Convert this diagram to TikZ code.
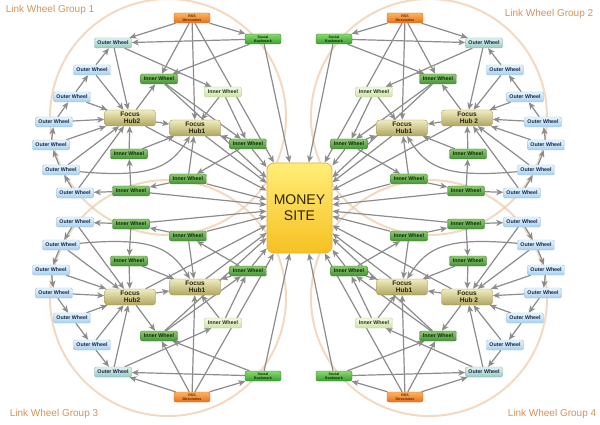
\documentclass[tikz,border=0pt]{standalone}
\usepackage{fontspec}
\setmainfont{Liberation Sans}
\setsansfont{Liberation Sans}
\usetikzlibrary{arrows.meta}
\definecolor{edgegray}{RGB}{140,140,140}
\definecolor{ringcol}{RGB}{238,198,160}
\definecolor{titlecol}{RGB}{212,148,88}
\pgfdeclarelayer{bg}
\pgfdeclarelayer{edges}
\pgfsetlayers{bg,edges,main}

\newcommand\lwnodes[2]{%
 \node[rssbox] (#1R) at (192,18) {RSS\\Directories};
 \node[socbox] (#1S) at (263,39) {Social\\Bookmark};
 \node[outerT] (#1O1) at (113,43) {Outer Wheel};
 \node[outer] (#1O2) at (92,70) {Outer Wheel};
 \node[outer] (#1O3) at (72,97) {Outer Wheel};
 \node[outer] (#1O4) at (54,122) {Outer Wheel};
 \node[outer] (#1O5) at (51,145) {Outer Wheel};
 \node[outer] (#1O6) at (61,170) {Outer Wheel};
 \node[outer] (#1O7) at (75,193) {Outer Wheel};
 \node[innerD] (#1I1) at (159,79) {Inner Wheel};
 \node[innerL] (#1I2) at (223,92) {Inner Wheel};
 \node[hub] (#1F2) at (130,118) {Focus\\\hspace*{4pt}#2};
 \node[hub] (#1F1) at (195,128) {Focus\\\hspace*{4pt}Hub1};
 \node[innerD] (#1I3) at (248,144) {Inner Wheel};
 \node[innerD] (#1I4) at (129,154) {Inner Wheel};
 \node[innerD] (#1I5) at (188,179) {Inner Wheel};
 \node[innerD] (#1I6) at (131,191) {Inner Wheel};
}

\newcommand\lwedges[1]{%
 \draw[e] (#1R) -- (#1O1);
 \draw[e] (#1R) -- (#1S);
 \draw[e] (#1R) -- (#1I1);
 \draw[e] (#1R) -- (#1F1);
 \draw[e] (#1R) -- (M);
 \draw[e] (#1S) -- (#1O1);
 \draw[e] (#1S) -- (#1I1);
 \draw[e] (#1S) -- (M);
 \draw[e] (#1O1) -- (#1F2);
 \draw[e] (#1O1) -- (#1I2);
 \draw[e] (#1O2) -- (#1O1);
 \draw[e] (#1O2) -- (#1F2);
 \draw[e] (#1O3) -- (#1O2);
 \draw[e] (#1O3) -- (#1F2);
 \draw[e] (#1O4) -- (#1O3);
 \draw[e] (#1O4) -- (#1F2);
 \draw[e] (#1O5) -- (#1O4);
 \draw[e] (#1O5) -- (#1F2);
 \draw[e] (#1O6) -- (#1O5);
 \draw[e] (#1O6) -- (#1F2);
 \draw[e] (#1O6) .. controls (150,178) and (170,168) .. (#1F1);
 \draw[e] (#1O7) -- (#1O6);
 \draw[e] (#1O7) -- (#1F2);
 \draw[e] (#1F2) -- (#1I1);
 \draw[e] (#1F2) -- (#1F1);
 \draw[e] (#1F2) -- (M);
 \draw[e] (#1F1) -- (M);
 \draw[e] (#1I1) -- (#1I3);
 \draw[e] (#1I1) -- (M);
 \draw[e] (#1I2) -- (#1F1);
 \draw[e] (#1I2) -- (#1I3);
 \draw[e] (#1I3) -- (#1F1);
 \draw[e] (#1I3) -- (#1I5);
 \draw[e] (#1I3) -- (M);
 \draw[e] (#1I4) -- (#1F2);
 \draw[e] (#1I4) -- (#1F1);
 \draw[e] (#1I5) -- (#1F1);
 \draw[e] (#1I5) -- (#1I6);
 \draw[e] (#1I5) -- (M);
 \draw[e] (#1I6) -- (#1I4);
 \draw[e] (#1I6) -- (#1O7);
 \draw[e] (#1I6) -- (M);
}

\begin{document}
\begin{tikzpicture}[x=1pt,y=-1pt,
  base/.style={rounded corners=2pt, inner sep=0pt, align=center,
    font=\bfseries\fontsize{5.3}{5.3}\selectfont, line width=0.4pt},
  outer/.style={base, minimum width=37pt, minimum height=10pt,
    top color={rgb,255:red,232;green,244;blue,253}, bottom color={rgb,255:red,168;green,208;blue,238},
    draw={rgb,255:red,150;green,190;blue,222}, text={rgb,255:red,20;green,40;blue,75}},
  outerT/.style={outer, top color={rgb,255:red,225;green,242;blue,238}, bottom color={rgb,255:red,150;green,202;blue,192},
    draw={rgb,255:red,130;green,180;blue,170}},
  innerD/.style={base, minimum width=37pt, minimum height=10pt,
    top color={rgb,255:red,140;green,200;blue,110}, bottom color={rgb,255:red,72;green,148;blue,58},
    draw={rgb,255:red,65;green,125;blue,52}, text={rgb,255:red,15;green,40;blue,10}},
  innerL/.style={innerD, top color={rgb,255:red,242;green,248;blue,225}, bottom color={rgb,255:red,205;green,228;blue,170},
    draw={rgb,255:red,180;green,205;blue,145}, text={rgb,255:red,40;green,55;blue,25}},
  hub/.style={base, minimum width=51pt, minimum height=16pt, rounded corners=3pt,
    font=\bfseries\fontsize{6.6}{7}\selectfont,
    top color={rgb,255:red,240;green,236;blue,190}, bottom color={rgb,255:red,175;green,166;blue,96},
    draw={rgb,255:red,158;green,148;blue,88}, text={rgb,255:red,40;green,38;blue,15}},
  rssbox/.style={base, minimum width=36pt, minimum height=10pt,
    font=\bfseries\fontsize{3.6}{3.8}\selectfont,
    top color={rgb,255:red,252;green,180;blue,95}, bottom color={rgb,255:red,232;green,112;blue,30},
    draw={rgb,255:red,205;green,105;blue,30}, text={rgb,255:red,90;green,35;blue,0}},
  socbox/.style={base, minimum width=36pt, minimum height=10pt,
    font=\bfseries\fontsize{3.6}{3.8}\selectfont,
    top color={rgb,255:red,140;green,215;blue,110}, bottom color={rgb,255:red,55;green,160;blue,48},
    draw={rgb,255:red,50;green,135;blue,45}, text={rgb,255:red,10;green,40;blue,5}},
  money/.style={rounded corners=7pt, minimum width=65pt, minimum height=90pt, inner sep=0pt,
    align=center, font=\fontsize{14}{16}\selectfont,
    top color={rgb,255:red,255;green,238;blue,120}, bottom color={rgb,255:red,246;green,192;blue,35},
    draw={rgb,255:red,235;green,175;blue,55}, line width=0.8pt, text={rgb,255:red,45;green,35;blue,5}},
  ring/.style={draw=ringcol, line width=2pt, opacity=0.65},
  title/.style={font=\fontsize{10}{12}\selectfont, text=titlecol, inner sep=0pt},
  e/.style={draw=edgegray, line width=1.2pt, -{Stealth[length=7pt,width=6pt,inset=1.8pt]}}
]
\useasboundingbox (0,0) rectangle (600,425);
\begin{pgfonlayer}{bg}
  \fill[white] (0,0) rectangle (600,425);
  \draw[ring] (168,117) circle[radius=118];
  \draw[ring] (429,117) circle[radius=118];
  \draw[ring] (168,298) circle[radius=118];
  \draw[ring] (429,298) circle[radius=118];
\end{pgfonlayer}

\node[money] (M) at (299.5,208) {MONEY\\SITE};

\begin{scope}
  \lwnodes{a}{Hub2}
  \begin{pgfonlayer}{edges}\lwedges{a}\end{pgfonlayer}
\end{scope}
\begin{scope}[xshift=597pt,xscale=-1]
  \lwnodes{b}{Hub 2}
  \begin{pgfonlayer}{edges}\lwedges{b}\end{pgfonlayer}
\end{scope}
\begin{scope}[yshift=-415pt,yscale=-1]
  \lwnodes{c}{Hub2}
  \begin{pgfonlayer}{edges}\lwedges{c}\end{pgfonlayer}
\end{scope}
\begin{scope}[xshift=597pt,yshift=-415pt,xscale=-1,yscale=-1]
  \lwnodes{d}{Hub 2}
  \begin{pgfonlayer}{edges}\lwedges{d}\end{pgfonlayer}
\end{scope}

\node[title] (t1) at (50,10) {Link Wheel Group 1};
\node[title] (t2) at (549,14) {Link Wheel Group 2};
\node[title] (t3) at (54,414) {Link Wheel Group 3};
\node[title] (t4) at (552,414) {Link Wheel Group 4};
\end{tikzpicture}
\end{document}
